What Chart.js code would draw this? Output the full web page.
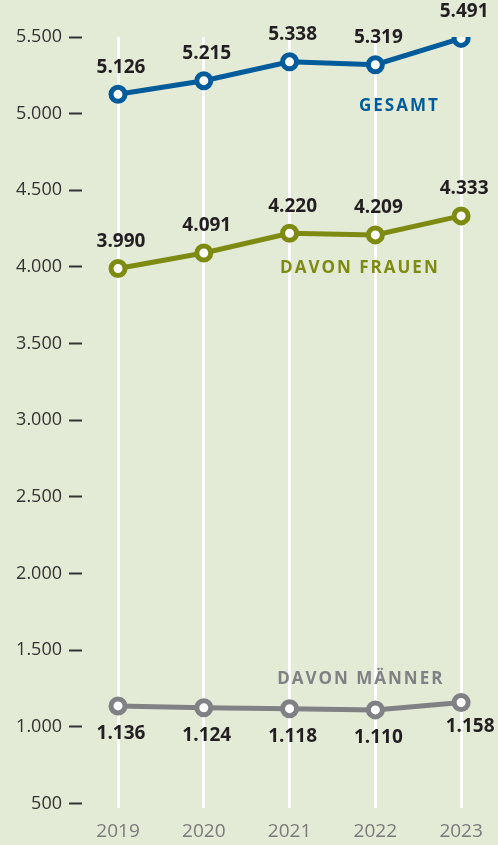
<!DOCTYPE html>
<html>
<head>
<meta charset="utf-8">
<script src="https://cdn.jsdelivr.net/npm/chart.js@4"></script>
<style>
  html, body { margin: 0; padding: 0; background: #e3ead5; }
  #wrap { width: 498px; height: 845px; }
</style>
</head>
<body>
<div id="wrap"><canvas id="lineChart"></canvas></div>
<script>
// DATA
const years = [2019, 2020, 2021, 2022, 2023];
const gesamt = [5126, 5215, 5338, 5319, 5491];
const frauen = [3990, 4091, 4220, 4209, 4333];
const maenner = [1136, 1124, 1118, 1110, 1158];
const yTicks = [500, 1000, 1500, 2000, 2500, 3000, 3500, 4000, 4500, 5000, 5500];
const seriesNames = ["GESAMT", "DAVON FRAUEN", "DAVON MÄNNER"];

const BLUE = "#005b9b";
const OLIVE = "#7e8b12";
const GREY = "#808185";

const fmt = v => v.toLocaleString("de-DE");

// value labels + series names
const labelPlugin = {
    id: "labels",
    afterDatasetsDraw(chart) {
        const ctx = chart.ctx;
        const x = chart.scales.x, y = chart.scales.y;
        ctx.save();
        ctx.textAlign = "center";
        ctx.textBaseline = "middle";
        ctx.fillStyle = "#231f20";
        ctx.font = "bold 19px 'Open Sans'";
        chart.data.datasets.forEach((ds, i) => {
            const meta = chart.getDatasetMeta(i);
            meta.data.forEach((pt, j) => {
                let dy = i === 2 ? 28 : -27;
                let dx = 3;
                if (i === 2 && j === 4) { dy = 24; dx = 9; }
                ctx.fillText(fmt(ds.data[j].y), pt.x + dx, pt.y + dy);
            });
        });
        // series names
        ctx.font = "bold 17px 'Open Sans'";
        ctx.letterSpacing = "2px";
        const anchors = [[2022.28, 5050, BLUE], [2021.82, 3993, OLIVE], [2021.83, 1313, GREY]];
        anchors.forEach((a, i) => {
            ctx.fillStyle = a[2];
            ctx.fillText(seriesNames[i], x.getPixelForValue(a[0]), y.getPixelForValue(a[1]));
        });
        ctx.restore();
    }
};

const pts = arr => arr.map((v, i) => ({ x: years[i], y: v }));
const ds = (label, arr, color) => ({
    label: label,
    data: pts(arr),
    borderColor: color,
    borderWidth: 5,
    pointBackgroundColor: "#ffffff",
    pointBorderColor: color,
    pointBorderWidth: 5,
    pointRadius: 7,
    tension: 0
});

new Chart(document.getElementById("lineChart"), {
    type: "line",
    data: {
        datasets: [
            ds(seriesNames[0], gesamt, BLUE),
            ds(seriesNames[1], frauen, OLIVE),
            ds(seriesNames[2], maenner, GREY)
        ]
    },
    options: {
        responsive: true,
        maintainAspectRatio: false,
        animation: false,
        layout: { autoPadding: false, padding: { top: 37, right: 0, left: 0, bottom: 0 } },
        plugins: { legend: { display: false }, tooltip: { enabled: false } },
        scales: {
            x: {
                type: "linear",
                min: 2018.58,
                max: 2023.43,
                afterBuildTicks: s => { s.ticks = years.map(v => ({ value: v })); },
                afterFit: s => { s.height = 37; s.paddingLeft = 0; s.paddingRight = 0; },
                border: { display: false },
                grid: { color: "#ffffff", lineWidth: 3, drawTicks: false },
                ticks: {
                    padding: 12,
                    color: "#7a7a7a",
                    font: { family: "Open Sans", size: 19 },
                    callback: v => String(v)
                }
            },
            y: {
                min: 470,
                max: 5500,
                afterBuildTicks: s => { s.ticks = yTicks.map(v => ({ value: v })); },
                afterFit: s => { s.width = 82; },
                border: { display: false },
                grid: { drawOnChartArea: false, drawTicks: true, tickLength: 13, tickColor: "#333333", tickWidth: 2 },
                ticks: {
                    padding: 7,
                    color: "#333333",
                    font: { family: "Open Sans", size: 18 },
                    callback: v => fmt(v)
                }
            }
        }
    },
    plugins: [labelPlugin]
});
</script>
</body>
</html>
